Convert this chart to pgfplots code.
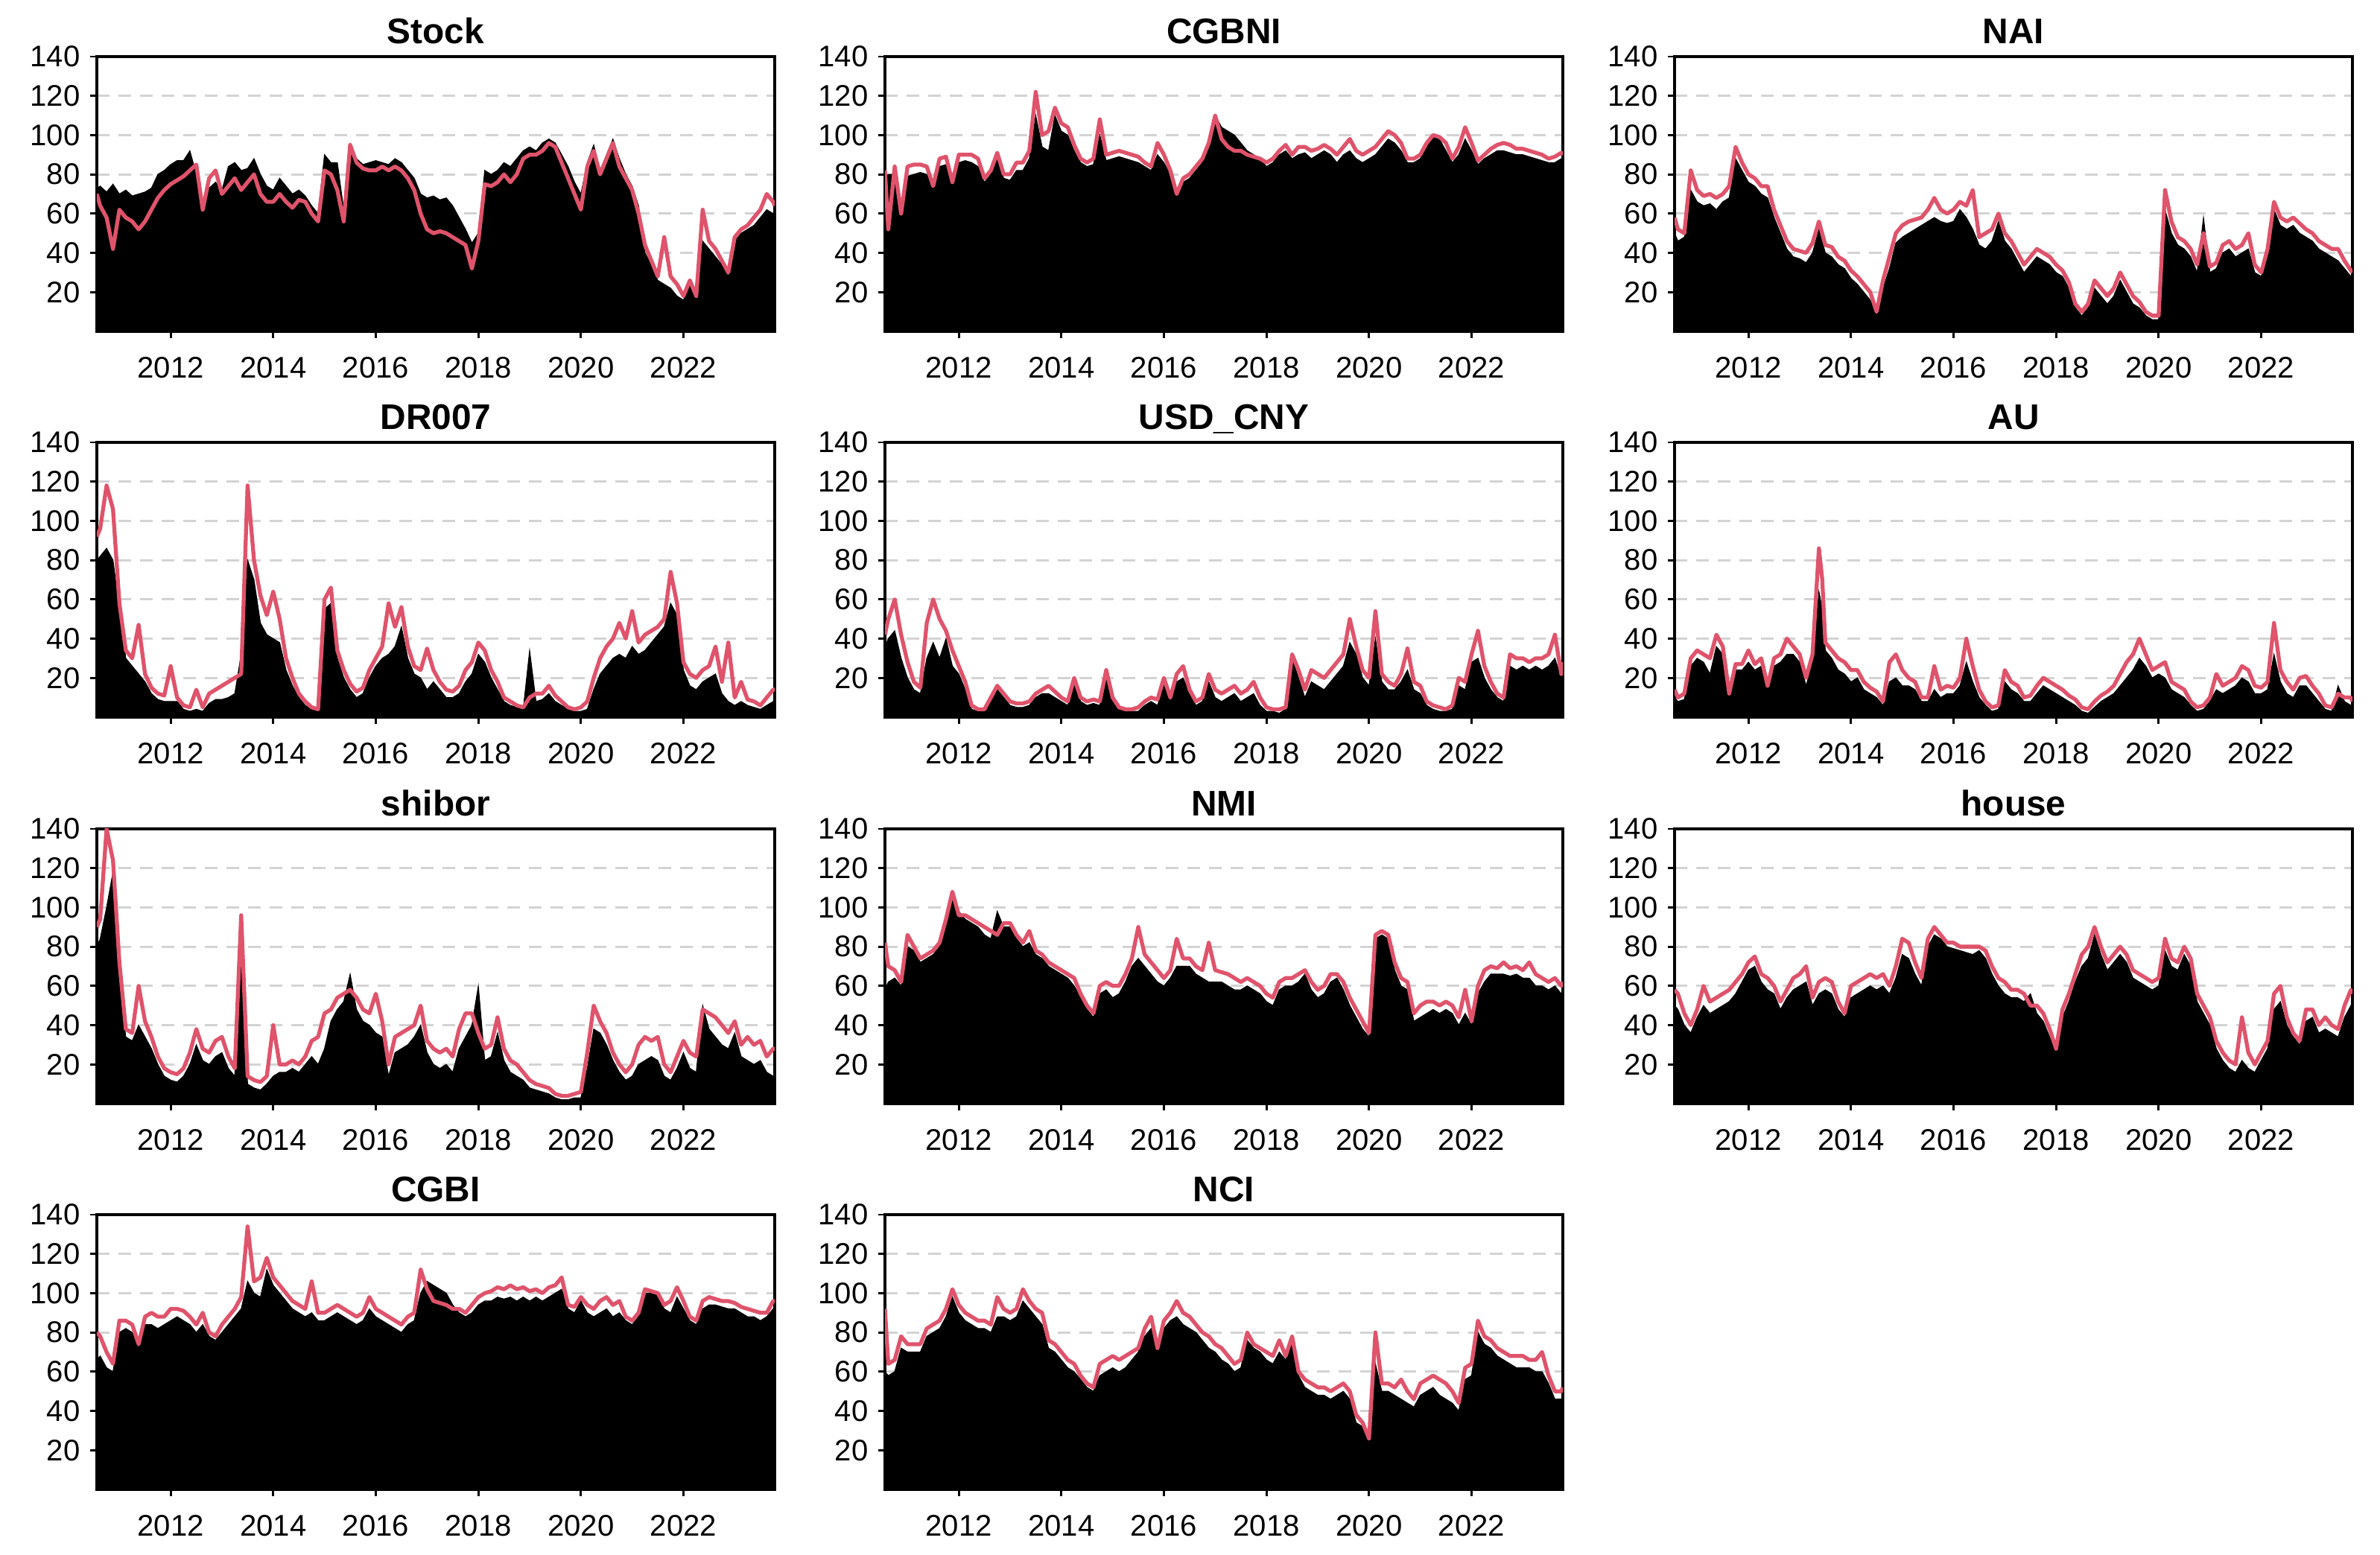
\documentclass[border=0pt]{standalone}
\usepackage{pgfplots}
\usepackage{pgfplotstable}
\pgfplotsset{compat=1.18}
\usepackage{fontspec}
\setmainfont{Liberation Sans}
\definecolor{rline}{HTML}{DF536B}
\definecolor{lgray}{HTML}{D3D3D3}

\pgfplotstableread{
x b r
2010.56 73 70
2010.625 74 64
2010.75 71 58
2010.875 75 42
2011 70 62
2011.125 72 58
2011.25 69 56
2011.375 70 52
2011.5 71 56
2011.625 73 62
2011.75 80 68
2011.875 82 72
2012 85 75
2012.125 87 77
2012.25 87 79
2012.375 92 82
2012.5 80 85
2012.625 64 62
2012.75 73 78
2012.875 76 82
2013 72 70
2013.125 84 74
2013.25 86 78
2013.375 82 72
2013.5 83 76
2013.625 88 80
2013.75 80 70
2013.875 74 66
2014 72 66
2014.125 78 70
2014.25 74 66
2014.375 70 63
2014.5 72 67
2014.625 69 66
2014.75 64 60
2014.875 60 56
2015 90 82
2015.125 86 80
2015.25 86 72
2015.375 62 56
2015.5 94 95
2015.625 88 86
2015.75 85 83
2015.875 86 82
2016 87 82
2016.125 86 84
2016.25 85 82
2016.375 88 84
2016.5 86 82
2016.625 82 78
2016.75 78 72
2016.875 70 60
2017 68 52
2017.125 69 50
2017.25 67 51
2017.375 68 50
2017.5 64 48
2017.625 58 46
2017.75 52 44
2017.875 45 32
2018 50 46
2018.125 82 75
2018.25 80 74
2018.375 82 76
2018.5 86 80
2018.625 84 76
2018.75 88 80
2018.875 92 88
2019 94 90
2019.125 92 90
2019.25 96 92
2019.375 98 96
2019.5 96 94
2019.625 90 86
2019.75 84 78
2019.875 76 70
2020 70 62
2020.125 86 84
2020.25 95 92
2020.375 82 80
2020.5 90 88
2020.625 98 96
2020.75 88 84
2020.875 80 78
2021 74 72
2021.125 64 60
2021.25 40 44
2021.375 34 36
2021.5 26 28
2021.625 24 48
2021.75 22 28
2021.875 18 24
2022 16 18
2022.125 24 26
2022.25 18 18
2022.375 46 62
2022.5 42 46
2022.625 38 42
2022.75 34 36
2022.875 28 30
2023 46 48
2023.125 50 52
2023.25 52 54
2023.375 54 58
2023.5 58 62
2023.625 62 70
2023.75 60 66
2023.78 62 64
}\tStock

\pgfplotstableread{
x b r
2010.56 78 82
2010.625 80 52
2010.75 80 84
2010.875 62 60
2011 79 84
2011.125 80 85
2011.25 81 85
2011.375 80 84
2011.5 76 74
2011.625 84 88
2011.75 85 89
2011.875 80 76
2012 86 90
2012.125 87 90
2012.25 86 90
2012.375 84 88
2012.5 76 78
2012.625 80 82
2012.75 88 91
2012.875 78 80
2013 77 80
2013.125 82 86
2013.25 82 86
2013.375 88 92
2013.5 110 122
2013.625 94 100
2013.75 92 102
2013.875 110 114
2014 102 106
2014.125 100 104
2014.25 92 95
2014.375 86 88
2014.5 84 86
2014.625 85 88
2014.75 100 108
2014.875 87 90
2015 88 91
2015.125 89 92
2015.25 88 91
2015.375 87 90
2015.5 86 89
2015.625 84 86
2015.75 82 84
2015.875 90 96
2016 86 90
2016.125 80 82
2016.25 70 70
2016.375 76 78
2016.5 78 80
2016.625 82 84
2016.75 86 88
2016.875 94 96
2017 110 110
2017.125 104 98
2017.25 102 94
2017.375 100 92
2017.5 96 92
2017.625 92 90
2017.75 90 89
2017.875 88 88
2018 84 86
2018.125 86 88
2018.25 90 92
2018.375 92 95
2018.5 88 90
2018.625 90 94
2018.75 91 94
2018.875 88 92
2019 90 93
2019.125 92 95
2019.25 90 93
2019.375 86 90
2019.5 90 94
2019.625 92 98
2019.75 88 92
2019.875 86 90
2020 88 92
2020.125 90 94
2020.25 94 98
2020.375 98 102
2020.5 96 100
2020.625 92 96
2020.75 86 88
2020.875 86 88
2021 88 90
2021.125 94 96
2021.25 100 100
2021.375 98 99
2021.5 92 96
2021.625 86 88
2021.75 90 94
2021.875 98 104
2022 92 96
2022.125 85 87
2022.25 88 90
2022.375 90 93
2022.5 92 95
2022.625 92 96
2022.75 91 95
2022.875 90 93
2023 90 93
2023.125 89 92
2023.25 88 91
2023.375 87 90
2023.5 86 88
2023.625 86 89
2023.75 88 91
2023.78 88 90
}\tCGBNI

\pgfplotstableread{
x b r
2010.56 50 58
2010.625 46 52
2010.75 48 50
2010.875 72 82
2011 66 72
2011.125 64 69
2011.25 65 70
2011.375 62 68
2011.5 66 70
2011.625 68 74
2011.75 88 94
2011.875 82 86
2012 76 80
2012.125 74 78
2012.25 70 74
2012.375 68 74
2012.5 58 62
2012.625 50 54
2012.75 42 46
2012.875 38 42
2013 37 41
2013.125 35 40
2013.25 40 45
2013.375 52 56
2013.5 40 44
2013.625 38 43
2013.75 34 38
2013.875 32 36
2014 27 31
2014.125 24 28
2014.25 20 24
2014.375 16 20
2014.5 8 10
2014.625 22 26
2014.75 32 38
2014.875 45 50
2015 48 54
2015.125 50 56
2015.25 52 57
2015.375 54 58
2015.5 56 62
2015.625 58 68
2015.75 56 62
2015.875 55 60
2016 56 62
2016.125 62 66
2016.25 58 64
2016.375 52 72
2016.5 44 48
2016.625 42 50
2016.75 46 52
2016.875 56 60
2017 46 50
2017.125 42 46
2017.25 36 40
2017.375 30 34
2017.5 34 38
2017.625 38 42
2017.75 36 40
2017.875 34 38
2018 30 34
2018.125 28 31
2018.25 22 25
2018.375 12 14
2018.5 8 10
2018.625 12 14
2018.75 22 26
2018.875 18 22
2019 14 18
2019.125 18 22
2019.25 26 30
2019.375 20 24
2019.5 14 18
2019.625 12 15
2019.75 8 10
2019.875 6 8
2020 6 8
2020.125 62 72
2020.25 50 56
2020.375 44 48
2020.5 42 46
2020.625 38 42
2020.75 30 34
2020.875 58 50
2021 30 33
2021.125 32 35
2021.25 40 44
2021.375 42 46
2021.5 38 42
2021.625 40 44
2021.75 42 50
2021.875 30 34
2022 28 30
2022.125 38 42
2022.25 62 66
2022.375 54 58
2022.5 52 56
2022.625 54 58
2022.75 50 55
2022.875 48 52
2023 46 50
2023.125 42 46
2023.25 40 44
2023.375 38 42
2023.5 36 42
2023.625 32 36
2023.75 28 31
2023.78 28 30
}\tNAI

\pgfplotstableread{
x b r
2010.56 80 92
2010.625 82 96
2010.75 86 118
2010.875 80 106
2011 55 58
2011.125 30 34
2011.25 26 30
2011.375 22 47
2011.5 18 22
2011.625 12 15
2011.75 9 12
2011.875 8 11
2012 8 26
2012.125 8 10
2012.25 4 6
2012.375 3 5
2012.5 4 14
2012.625 3 5
2012.75 7 12
2012.875 9 14
2013 9 16
2013.125 10 18
2013.25 12 20
2013.375 32 22
2013.5 80 118
2013.625 70 80
2013.75 48 62
2013.875 42 52
2014 40 64
2014.125 38 50
2014.25 24 30
2014.375 16 20
2014.5 10 12
2014.625 6 8
2014.75 4 5
2014.875 3 4
2015 55 60
2015.125 58 66
2015.25 30 34
2015.375 20 24
2015.5 14 17
2015.625 10 13
2015.75 12 15
2015.875 20 24
2016 26 30
2016.125 30 36
2016.25 32 58
2016.375 36 46
2016.5 46 56
2016.625 30 36
2016.75 22 26
2016.875 20 24
2017 14 35
2017.125 18 24
2017.25 14 18
2017.375 10 14
2017.5 10 13
2017.625 12 16
2017.75 18 24
2017.875 22 28
2018 32 38
2018.125 28 34
2018.25 20 24
2018.375 14 18
2018.5 8 10
2018.625 6 8
2018.75 5 6
2018.875 4 5
2019 34 10
2019.125 8 12
2019.25 9 12
2019.375 12 16
2019.5 8 11
2019.625 6 8
2019.75 4 5
2019.875 3 4
2020 3 5
2020.125 4 8
2020.25 14 20
2020.375 22 30
2020.5 26 36
2020.625 30 40
2020.75 32 48
2020.875 30 40
2021 36 54
2021.125 32 38
2021.25 34 42
2021.375 38 44
2021.5 42 46
2021.625 46 50
2021.75 58 74
2021.875 52 58
2022 24 28
2022.125 16 22
2022.25 14 20
2022.375 18 24
2022.5 20 26
2022.625 22 36
2022.75 12 18
2022.875 8 38
2023 6 10
2023.125 8 18
2023.25 6 9
2023.375 5 8
2023.5 4 6
2023.625 6 10
2023.75 8 14
2023.78 10 14
}\tDR

\pgfplotstableread{
x b r
2010.56 36 42
2010.625 40 50
2010.75 44 60
2010.875 30 42
2011 20 28
2011.125 14 18
2011.25 12 15
2011.375 30 48
2011.5 38 60
2011.625 30 50
2011.75 40 44
2011.875 26 34
2012 22 26
2012.125 14 18
2012.25 4 6
2012.375 3 4
2012.5 3 4
2012.625 8 10
2012.75 14 16
2012.875 10 12
2013 6 8
2013.125 5 7
2013.25 5 7
2013.375 6 8
2013.5 10 12
2013.625 12 14
2013.75 12 16
2013.875 10 13
2014 8 10
2014.125 6 8
2014.25 18 20
2014.375 8 10
2014.5 6 8
2014.625 7 9
2014.75 6 8
2014.875 22 24
2015 8 10
2015.125 4 5
2015.25 3 4
2015.375 3 4
2015.5 3 5
2015.625 6 8
2015.75 8 10
2015.875 6 9
2016 16 20
2016.125 8 10
2016.25 18 22
2016.375 20 26
2016.5 12 14
2016.625 6 8
2016.75 8 10
2016.875 18 22
2017 10 14
2017.125 8 12
2017.25 10 14
2017.375 12 16
2017.5 8 12
2017.625 10 14
2017.75 12 18
2017.875 6 10
2018 3 5
2018.125 3 4
2018.25 2 4
2018.375 4 5
2018.5 30 32
2018.625 20 24
2018.75 10 14
2018.875 18 24
2019 16 22
2019.125 14 20
2019.25 18 24
2019.375 22 28
2019.5 26 32
2019.625 38 50
2019.75 32 36
2019.875 20 24
2020 16 20
2020.125 40 54
2020.25 18 22
2020.375 14 18
2020.5 14 16
2020.625 18 22
2020.75 24 35
2020.875 14 18
2021 12 16
2021.125 6 8
2021.25 4 6
2021.375 3 5
2021.5 3 4
2021.625 4 6
2021.75 16 20
2021.875 14 18
2022 28 32
2022.125 30 44
2022.25 20 26
2022.375 14 18
2022.5 10 12
2022.625 8 10
2022.75 26 32
2022.875 24 30
2023 26 30
2023.125 24 28
2023.25 26 30
2023.375 24 30
2023.5 26 32
2023.625 30 42
2023.75 20 22
2023.78 22 28
}\tUSD

\pgfplotstableread{
x b r
2010.56 10 14
2010.625 8 10
2010.75 9 12
2010.875 26 30
2011 30 34
2011.125 28 32
2011.25 22 30
2011.375 36 42
2011.5 32 36
2011.625 10 12
2011.75 24 27
2011.875 24 27
2012 28 34
2012.125 24 27
2012.25 26 30
2012.375 14 16
2012.5 26 30
2012.625 28 32
2012.75 32 40
2012.875 32 36
2013 28 32
2013.125 16 20
2013.25 28 32
2013.375 64 86
2013.44 55 70
2013.5 34 38
2013.625 30 34
2013.75 24 30
2013.875 22 28
2014 18 24
2014.125 20 24
2014.25 14 18
2014.375 12 15
2014.5 10 13
2014.625 6 8
2014.75 18 28
2014.875 20 32
2015 16 24
2015.125 16 20
2015.25 14 18
2015.375 8 10
2015.5 8 10
2015.625 14 26
2015.75 10 14
2015.875 12 16
2016 12 15
2016.125 16 20
2016.25 28 40
2016.375 18 26
2016.5 10 14
2016.625 6 8
2016.75 3 5
2016.875 4 6
2017 18 24
2017.125 14 18
2017.25 12 16
2017.375 8 10
2017.5 8 11
2017.625 12 16
2017.75 16 20
2017.875 14 18
2018 12 16
2018.125 10 14
2018.25 8 11
2018.375 6 9
2018.5 3 5
2018.625 2 4
2018.75 5 8
2018.875 8 11
2019 10 13
2019.125 12 16
2019.25 16 22
2019.375 20 28
2019.5 24 32
2019.625 30 40
2019.75 26 32
2019.875 20 24
2020 22 26
2020.125 20 28
2020.25 14 18
2020.375 12 16
2020.5 10 14
2020.625 6 8
2020.75 3 5
2020.875 4 6
2021 8 10
2021.125 14 22
2021.25 12 16
2021.375 14 18
2021.5 16 20
2021.625 20 26
2021.75 18 24
2021.875 12 16
2022 12 15
2022.125 14 18
2022.25 32 48
2022.375 18 24
2022.5 12 18
2022.625 10 14
2022.75 16 20
2022.875 16 21
2023 12 16
2023.125 8 12
2023.25 4 6
2023.375 3 5
2023.5 16 12
2023.625 8 10
2023.75 6 10
2023.78 5 8
}\tAU

\pgfplotstableread{
x b r
2010.56 80 90
2010.625 84 94
2010.75 100 140
2010.875 118 124
2011 62 72
2011.125 34 38
2011.25 32 36
2011.375 40 60
2011.5 34 42
2011.625 28 34
2011.75 20 24
2011.875 14 18
2012 12 16
2012.125 11 15
2012.25 14 18
2012.375 20 26
2012.5 30 38
2012.625 22 28
2012.75 20 26
2012.875 24 32
2013 26 34
2013.125 18 24
2013.25 14 18
2013.375 85 96
2013.5 10 14
2013.625 8 12
2013.75 7 11
2013.875 10 14
2014 14 40
2014.125 16 20
2014.25 16 20
2014.375 18 22
2014.5 16 20
2014.625 20 24
2014.75 24 32
2014.875 20 34
2015 28 46
2015.125 42 48
2015.25 48 54
2015.375 52 56
2015.5 66 58
2015.625 48 54
2015.75 42 48
2015.875 40 46
2016 36 56
2016.125 34 42
2016.25 14 20
2016.375 26 34
2016.5 28 36
2016.625 30 38
2016.75 34 40
2016.875 40 50
2017 26 32
2017.125 20 28
2017.25 18 26
2017.375 20 28
2017.5 16 24
2017.625 28 38
2017.75 34 46
2017.875 40 46
2018 60 36
2018.125 22 28
2018.25 24 30
2018.375 36 44
2018.5 22 28
2018.625 16 22
2018.75 14 20
2018.875 12 16
2019 8 12
2019.125 7 10
2019.25 6 9
2019.375 5 8
2019.5 3 5
2019.625 2 4
2019.75 2 4
2019.875 3 5
2020 3 6
2020.125 18 26
2020.25 38 50
2020.375 36 42
2020.5 30 36
2020.625 22 26
2020.75 16 20
2020.875 12 16
2021 14 20
2021.125 20 30
2021.25 22 34
2021.375 24 32
2021.5 22 34
2021.625 14 20
2021.75 12 16
2021.875 18 24
2022 26 32
2022.125 18 26
2022.25 16 24
2022.375 50 48
2022.5 38 46
2022.625 34 44
2022.75 30 40
2022.875 28 36
2023 36 42
2023.125 24 30
2023.25 22 34
2023.375 20 30
2023.5 22 32
2023.625 16 24
2023.75 14 28
2023.78 16 28
}\tShibor

\pgfplotstableread{
x b r
2010.56 58 82
2010.625 62 70
2010.75 64 68
2010.875 60 62
2011 80 86
2011.125 78 80
2011.25 72 74
2011.375 74 76
2011.5 76 78
2011.625 80 82
2011.75 92 94
2011.875 106 108
2012 98 96
2012.125 94 96
2012.25 92 94
2012.375 90 92
2012.5 86 90
2012.625 84 88
2012.75 98 86
2012.875 90 92
2013 90 92
2013.125 84 86
2013.25 80 82
2013.375 82 88
2013.5 76 78
2013.625 74 76
2013.75 70 72
2013.875 68 70
2014 66 68
2014.125 64 66
2014.25 60 64
2014.375 54 56
2014.5 48 50
2014.625 44 46
2014.75 56 60
2014.875 58 62
2015 54 60
2015.125 56 60
2015.25 62 66
2015.375 70 74
2015.5 74 90
2015.625 70 76
2015.75 66 72
2015.875 62 68
2016 60 64
2016.125 64 68
2016.25 70 84
2016.375 70 74
2016.5 70 74
2016.625 66 70
2016.75 64 68
2016.875 62 82
2017 62 68
2017.125 62 67
2017.25 60 66
2017.375 58 64
2017.5 58 62
2017.625 60 64
2017.75 58 62
2017.875 56 60
2018 52 56
2018.125 50 54
2018.25 58 62
2018.375 60 64
2018.5 60 64
2018.625 62 66
2018.75 66 68
2018.875 58 62
2019 54 58
2019.125 56 60
2019.25 62 66
2019.375 64 66
2019.5 58 62
2019.625 50 54
2019.75 44 48
2019.875 38 42
2020 34 36
2020.125 84 86
2020.25 86 88
2020.375 84 86
2020.5 68 72
2020.625 60 64
2020.75 58 62
2020.875 42 46
2021 44 50
2021.125 46 52
2021.25 48 52
2021.375 46 50
2021.5 48 52
2021.625 46 50
2021.75 40 44
2021.875 46 58
2022 40 42
2022.125 56 60
2022.25 62 68
2022.375 66 70
2022.5 66 69
2022.625 66 72
2022.75 65 69
2022.875 66 70
2023 64 68
2023.125 64 72
2023.25 60 66
2023.375 60 64
2023.5 58 62
2023.625 60 64
2023.75 56 60
2023.78 58 62
}\tNMI

\pgfplotstableread{
x b r
2010.56 50 58
2010.625 48 56
2010.75 40 46
2010.875 36 40
2011 44 48
2011.125 50 60
2011.25 46 52
2011.375 48 54
2011.5 50 56
2011.625 52 58
2011.75 56 62
2011.875 62 66
2012 68 72
2012.125 70 75
2012.25 62 66
2012.375 58 64
2012.5 56 60
2012.625 48 52
2012.75 54 58
2012.875 58 64
2013 60 66
2013.125 62 70
2013.25 50 54
2013.375 56 62
2013.5 58 64
2013.625 56 62
2013.75 48 52
2013.875 44 46
2014 54 60
2014.125 56 62
2014.25 58 64
2014.375 60 66
2014.5 58 64
2014.625 60 66
2014.75 56 60
2014.875 64 70
2015 76 84
2015.125 74 82
2015.25 66 72
2015.375 60 64
2015.5 80 84
2015.625 86 90
2015.75 84 86
2015.875 80 82
2016 79 82
2016.125 78 80
2016.25 77 80
2016.375 76 80
2016.5 78 80
2016.625 74 78
2016.75 66 70
2016.875 60 64
2017 56 62
2017.125 54 58
2017.25 54 58
2017.375 52 56
2017.5 56 50
2017.625 46 50
2017.75 42 46
2017.875 34 38
2018 26 28
2018.125 44 48
2018.25 52 56
2018.375 62 66
2018.5 70 76
2018.625 74 80
2018.75 86 90
2018.875 76 80
2019 68 72
2019.125 72 76
2019.25 76 80
2019.375 72 76
2019.5 64 68
2019.625 62 66
2019.75 60 64
2019.875 58 62
2020 60 64
2020.125 78 84
2020.25 70 74
2020.375 68 72
2020.5 76 80
2020.625 70 74
2020.75 52 56
2020.875 46 50
2021 40 44
2021.125 28 32
2021.25 22 26
2021.375 18 22
2021.5 16 20
2021.625 22 44
2021.75 18 26
2021.875 16 20
2022 22 26
2022.125 28 32
2022.25 48 56
2022.375 52 60
2022.5 40 44
2022.625 34 36
2022.75 30 32
2022.875 42 48
2023 44 48
2023.125 36 40
2023.25 38 44
2023.375 36 40
2023.5 34 38
2023.625 44 50
2023.75 50 58
2023.78 52 56
}\tHouse

\pgfplotstableread{
x b r
2010.56 66 80
2010.625 68 78
2010.75 62 70
2010.875 60 64
2011 80 86
2011.125 82 86
2011.25 80 84
2011.375 72 74
2011.5 84 88
2011.625 84 90
2011.75 82 88
2011.875 84 88
2012 86 92
2012.125 88 92
2012.25 86 91
2012.375 84 88
2012.5 80 84
2012.625 84 90
2012.75 78 80
2012.875 76 78
2013 80 84
2013.125 84 88
2013.25 88 92
2013.375 92 98
2013.5 106 134
2013.625 100 106
2013.75 98 108
2013.875 112 118
2014 104 108
2014.125 100 104
2014.25 96 100
2014.375 92 96
2014.5 90 94
2014.625 88 92
2014.75 90 106
2014.875 86 90
2015 86 90
2015.125 88 92
2015.25 90 94
2015.375 88 92
2015.5 86 90
2015.625 84 88
2015.75 86 90
2015.875 92 98
2016 88 92
2016.125 86 90
2016.25 84 88
2016.375 82 86
2016.5 80 84
2016.625 84 88
2016.75 86 90
2016.875 100 112
2017 106 102
2017.125 104 96
2017.25 102 95
2017.375 100 94
2017.5 94 92
2017.625 90 92
2017.75 88 90
2017.875 90 94
2018 94 98
2018.125 96 100
2018.25 96 101
2018.375 98 103
2018.5 97 102
2018.625 98 104
2018.75 96 102
2018.875 98 103
2019 96 101
2019.125 98 102
2019.25 96 100
2019.375 98 103
2019.5 100 104
2019.625 102 108
2019.75 92 94
2019.875 90 93
2020 96 98
2020.125 90 94
2020.25 88 92
2020.375 90 96
2020.5 92 98
2020.625 88 94
2020.75 90 96
2020.875 86 88
2021 84 86
2021.125 88 90
2021.25 100 102
2021.375 100 101
2021.5 99 100
2021.625 92 94
2021.75 90 96
2021.875 98 103
2022 92 96
2022.125 86 88
2022.25 84 86
2022.375 92 96
2022.5 94 98
2022.625 94 97
2022.75 93 96
2022.875 92 96
2023 92 95
2023.125 90 93
2023.25 88 92
2023.375 88 91
2023.5 86 90
2023.625 88 90
2023.75 92 96
2023.78 94 96
}\tCGBI

\pgfplotstableread{
x b r
2010.56 60 92
2010.625 58 64
2010.75 60 66
2010.875 72 78
2011 70 74
2011.125 70 74
2011.25 70 74
2011.375 78 82
2011.5 80 84
2011.625 82 86
2011.75 88 92
2011.875 98 102
2012 90 94
2012.125 86 90
2012.25 84 88
2012.375 82 86
2012.5 82 86
2012.625 80 84
2012.75 88 98
2012.875 88 92
2013 86 90
2013.125 88 92
2013.25 96 102
2013.375 92 96
2013.5 88 92
2013.625 84 90
2013.75 72 76
2013.875 70 74
2014 66 70
2014.125 62 66
2014.25 60 64
2014.375 56 58
2014.5 52 54
2014.625 50 52
2014.75 58 64
2014.875 60 66
2015 62 68
2015.125 60 66
2015.25 62 68
2015.375 66 70
2015.5 70 72
2015.625 78 82
2015.75 82 88
2015.875 70 72
2016 82 86
2016.125 86 90
2016.25 88 96
2016.375 84 90
2016.5 82 88
2016.625 80 84
2016.75 76 80
2016.875 72 78
2017 70 74
2017.125 66 72
2017.25 64 68
2017.375 60 64
2017.5 62 66
2017.625 76 80
2017.75 72 74
2017.875 70 72
2018 66 70
2018.125 64 68
2018.25 70 76
2018.375 66 68
2018.5 76 78
2018.625 58 60
2018.75 52 56
2018.875 50 54
2019 48 52
2019.125 48 52
2019.25 46 50
2019.375 48 52
2019.5 50 54
2019.625 46 50
2019.75 34 38
2019.875 32 34
2020 24 26
2020.125 64 80
2020.25 50 54
2020.375 50 54
2020.5 48 52
2020.625 46 56
2020.75 44 50
2020.875 42 46
2021 48 54
2021.125 50 56
2021.25 52 58
2021.375 48 56
2021.5 46 54
2021.625 44 50
2021.75 40 44
2021.875 56 62
2022 58 64
2022.125 80 86
2022.25 74 78
2022.375 72 76
2022.5 68 72
2022.625 66 70
2022.75 64 68
2022.875 62 68
2023 62 68
2023.125 62 66
2023.25 60 66
2023.375 60 70
2023.5 54 58
2023.625 46 50
2023.75 46 50
2023.78 48 52
}\tNCI

\pgfplotsset{
  panel/.style={
    scale only axis, width=9.10cm, height=3.69cm,
    anchor=north west,
    xmin=2010.56, xmax=2023.78, ymin=0, ymax=140,
    xtick={2012,2014,2016,2018,2020,2022},
    xticklabels={2012,2014,2016,2018,2020,2022},
    ytick={20,40,60,80,100,120,140},
    yticklabels={20,40,60,80,100,120,140},
    xtick pos=bottom, ytick pos=left,
    tick align=outside, major tick length=0.09cm,
    tick style={black, line width=0.8pt},
    axis line style={line width=1.2pt},
    ymajorgrids, grid style={lgray, line width=0.9pt, dash pattern=on 0.17cm off 0.12cm},
    ticklabel style={font=\fontsize{11.4}{12}\selectfont},
    yticklabel style={anchor=east, inner sep=0pt, xshift=-0.13cm},
    xticklabel style={anchor=base, inner sep=0pt, yshift=-0.54cm},
    title style={font=\bfseries\fontsize{13.6}{15}\selectfont, at={(0.5,1)}, anchor=base, yshift=-0.04cm},
  }
}

\newcommand{\panel}[4]{%
\begin{axis}[panel, at={(#1cm,#2cm)}, title={#3}]
\addplot[fill=black, draw=black, line width=0.3pt] table[x=x,y=b]{#4} \closedcycle;
\addplot[rline, line width=1.5pt, line join=round] table[x=x,y=r]{#4};
\end{axis}}

\begin{document}
\begin{tikzpicture}
\useasboundingbox (0,0) rectangle (31.95cm,20.88cm);
\panel{1.30}{20.12}{Stock}{\tStock}
\panel{11.88}{20.12}{CGBNI}{\tCGBNI}
\panel{22.48}{20.12}{NAI}{\tNAI}
\panel{1.30}{14.94}{DR007}{\tDR}
\panel{11.88}{14.94}{USD\_CNY}{\tUSD}
\panel{22.48}{14.94}{AU}{\tAU}
\panel{1.30}{9.75}{shibor}{\tShibor}
\panel{11.88}{9.75}{NMI}{\tNMI}
\panel{22.48}{9.75}{house}{\tHouse}
\panel{1.30}{4.57}{CGBI}{\tCGBI}
\panel{11.88}{4.57}{NCI}{\tNCI}
\end{tikzpicture}
\end{document}
